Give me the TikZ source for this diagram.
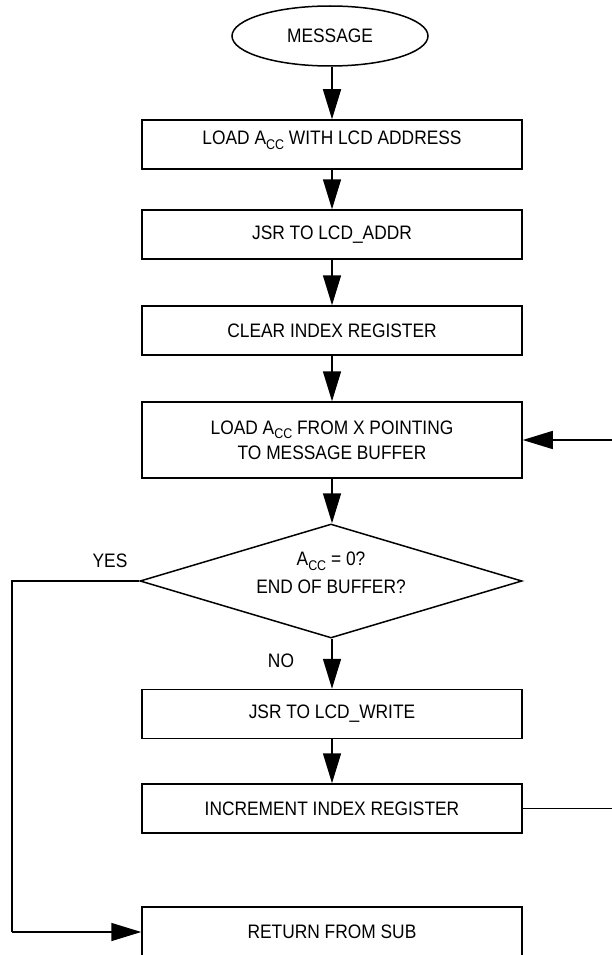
\documentclass[tikz,border=0pt]{standalone}
\usepackage{fontspec}
\setmainfont[FakeStretch=0.89]{Liberation Sans}
\usetikzlibrary{shapes.geometric,arrows.meta}
% accumulator with its subscript
\newcommand{\accreg}{A\raisebox{-4.5pt}{\fontsize{14}{16}\selectfont CC}}
% raise a line of text without changing its box
\newcommand{\liftline}[2]{\raisebox{#1}[\height][\depth]{#2}}

\begin{document}
\begin{tikzpicture}[x=1pt,y=-1pt,
  every node/.style={font=\fontsize{19.5}{23}\selectfont},
  proc/.style={draw, line width=1.5pt, minimum width=380pt, minimum height=49pt,
    inner sep=0pt, align=center},
  flow/.style={line width=1.5pt, -{Triangle[length=30pt,width=18pt]}},
  link/.style={line width=1.5pt}]
\useasboundingbox (0,0) rectangle (612,955);
\clip (0,0) rectangle (612,955);

% start terminal
\node[draw, ellipse, line width=1.5pt, minimum width=196pt, minimum height=60pt,
  inner sep=0pt] (msg) at (330,36) {MESSAGE};

% process steps
\node[proc] (ld)   at (332,144.5) {\liftline{4pt}{LOAD \accreg{} WITH LCD ADDRESS}};
\node[proc] (jsra) at (332,234.5) {JSR TO LCD\_ADDR};
\node[proc] (clr)  at (332,330.5) {CLEAR INDEX REGISTER};
\node[proc, minimum height=76pt] (ldx) at (332,440)
  {LOAD \accreg{} FROM X POINTING\\[2pt]TO MESSAGE BUFFER};

% decision
\node[draw, diamond, line width=1.5pt, minimum width=382pt, minimum height=114pt,
  aspect=3.35, inner sep=0pt] (end) at (331,581) {};
\node[align=center, font=\fontsize{19.5}{28}\selectfont] (endq) at (331,573)
  {\accreg{} = 0?\\END OF BUFFER?};

\node[proc] (jsrw) at (332,714) {JSR TO LCD\_WRITE};
\node[proc] (inc)  at (332,808.5) {INCREMENT INDEX REGISTER};
\node[proc, minimum height=50pt] (ret) at (332,932) {RETURN FROM SUB};

% main flow
\coordinate (axis) at (332,0);
\draw[flow] (msg.south -| axis) -- (ld.north -| axis);
\draw[flow] (ld.south -| axis) -- (jsra.north -| axis);
\draw[flow] (jsra.south -| axis) -- (clr.north -| axis);
\draw[flow] (clr.south -| axis) -- (ldx.north -| axis);
\draw[flow] (ldx.south -| axis) -- (end.north -| axis);
\draw[flow] (end.south -| axis) -- (jsrw.north -| axis);
\node (no) at (281,661) {NO};
\draw[flow] (jsrw.south -| axis) -- (inc.north -| axis);

% loop back to the load step
\coordinate (loopr) at (620,0);
\draw[link] (inc.east) -- (inc.east -| loopr) -- (ldx.east -| loopr);
\draw[flow] (ldx.east -| loopr) -- (ldx.east);

% exit branch
\coordinate (exitl) at (12,0);
\node (yes) at (110,561) {YES};
\draw[link] (end.west) -- (end.west -| exitl) -- (ret.west -| exitl);
\draw[flow] (ret.west -| exitl) -- (ret.west);
\end{tikzpicture}
\end{document}
